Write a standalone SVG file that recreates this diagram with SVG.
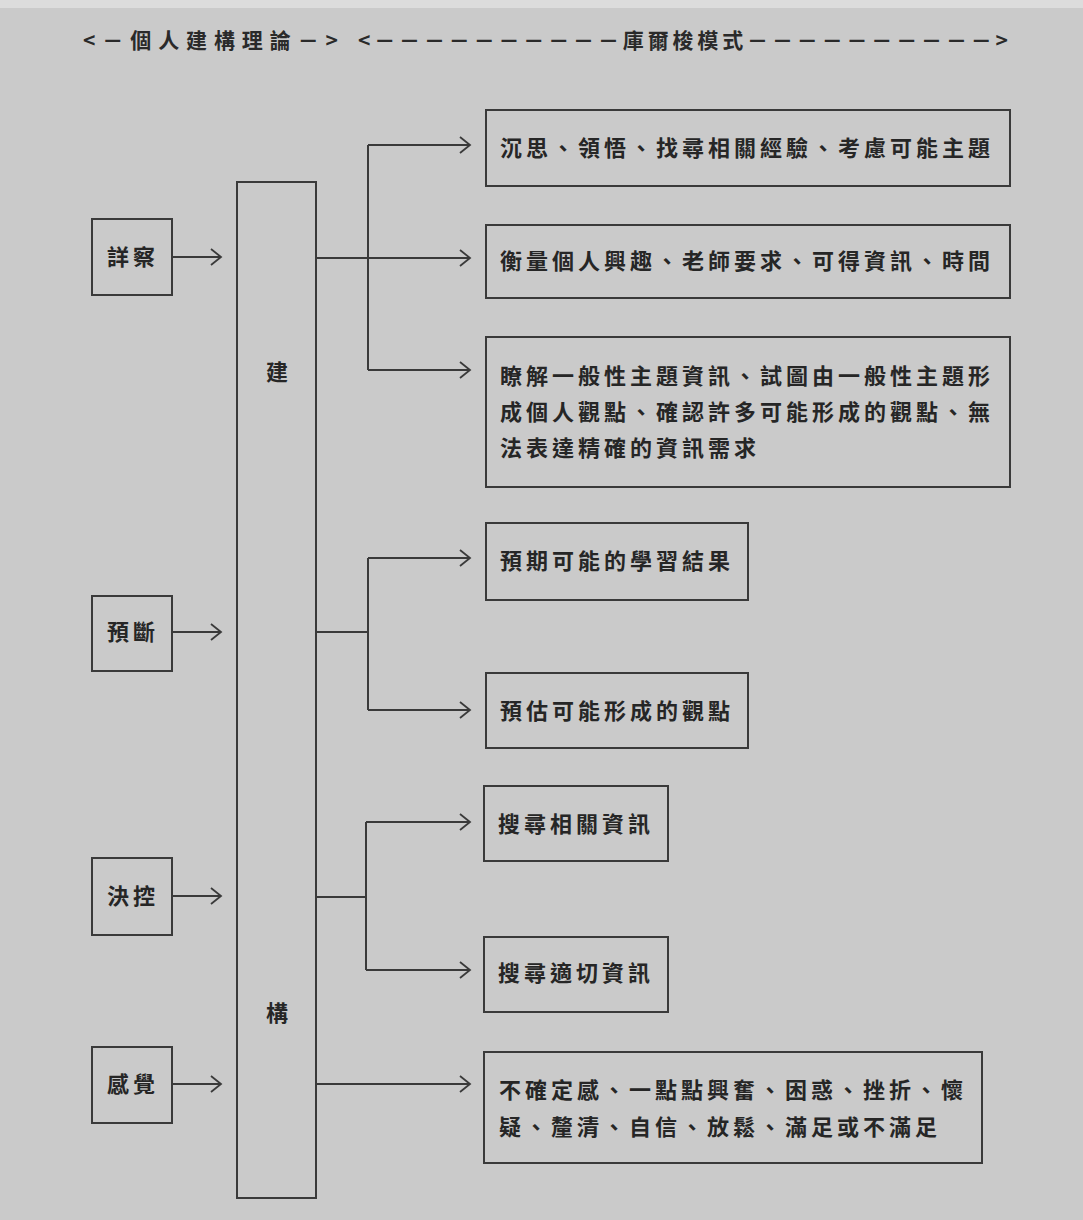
<svg xmlns="http://www.w3.org/2000/svg" width="1083" height="1220" viewBox="0 0 1083 1220">
<style>
.bg{fill:#cacaca}
.box{fill:none;stroke:#3a3a3a;stroke-width:2}
.t{font-family:"Noto Sans CJK TC","Noto Sans CJK SC",sans-serif;font-size:22px;font-weight:bold;fill:#262626;letter-spacing:4px}
.h{font-family:"Noto Sans CJK TC","Noto Sans CJK SC",sans-serif;font-size:21px;font-weight:bold;fill:#2a2a2a}
.c{fill:none;stroke:#3a3a3a;stroke-width:2}
</style>
<defs>
<marker id="arr" markerUnits="userSpaceOnUse" markerWidth="14" markerHeight="20" refX="11" refY="9" orient="auto">
<path d="M1,1 L11,9 L1,17" fill="none" stroke="#3a3a3a" stroke-width="1.8"/>
</marker>
</defs>
<rect class="bg" x="0" y="0" width="1083" height="1220"/>
<rect x="0" y="0" width="1083" height="8" fill="#dcdcdc"/>

<g id="header">
<text class="h" x="83" y="48" textLength="255" lengthAdjust="spacing">&lt;－個人建構理論－&gt;</text>
<text class="h" x="358" y="48" textLength="650" lengthAdjust="spacing">&lt;－－－－－－－－－－庫爾梭模式－－－－－－－－－－&gt;</text>
</g>

<g id="n-xiangcha"><rect class="box" x="92" y="219" width="80" height="76"/><text class="t" x="107" y="265">詳察</text></g>
<g id="n-yuduan"><rect class="box" x="92" y="596" width="80" height="75"/><text class="t" x="107" y="640">預斷</text></g>
<g id="n-juekong"><rect class="box" x="92" y="858" width="80" height="77"/><text class="t" x="107" y="904">決控</text></g>
<g id="n-ganjue"><rect class="box" x="92" y="1047" width="80" height="76"/><text class="t" x="107" y="1092">感覺</text></g>

<g id="n-construct"><rect class="box" x="237" y="182" width="79" height="1016"/>
<text class="t" x="266" y="380" style="letter-spacing:0">建</text>
<text class="t" x="266" y="1021" style="letter-spacing:0">構</text></g>

<g id="n-r1"><rect class="box" x="486" y="110" width="524" height="76"/><text class="t" x="500" y="156">沉思、領悟、找尋相關經驗、考慮可能主題</text></g>
<g id="n-r2"><rect class="box" x="486" y="225" width="524" height="73"/><text class="t" x="500" y="269">衡量個人興趣、老師要求、可得資訊、時間</text></g>
<g id="n-r3"><rect class="box" x="486" y="337" width="524" height="150"/>
<text class="t" x="500" y="384">瞭解一般性主題資訊、試圖由一般性主題形</text>
<text class="t" x="500" y="420">成個人觀點、確認許多可能形成的觀點、無</text>
<text class="t" x="500" y="456">法表達精確的資訊需求</text></g>
<g id="n-r4"><rect class="box" x="486" y="523" width="262" height="77"/><text class="t" x="500" y="569">預期可能的學習結果</text></g>
<g id="n-r5"><rect class="box" x="486" y="673" width="262" height="75"/><text class="t" x="500" y="719">預估可能形成的觀點</text></g>
<g id="n-r6"><rect class="box" x="484" y="786" width="184" height="75"/><text class="t" x="498" y="832">搜尋相關資訊</text></g>
<g id="n-r7"><rect class="box" x="484" y="937" width="184" height="75"/><text class="t" x="498" y="981">搜尋適切資訊</text></g>
<g id="n-r8"><rect class="box" x="484" y="1052" width="498" height="111"/>
<text class="t" x="499" y="1098">不確定感、一點點興奮、困惑、挫折、懷</text>
<text class="t" x="499" y="1135">疑、釐清、自信、放鬆、滿足或不滿足</text></g>

<g id="connectors">
<line class="c" x1="172" y1="257" x2="221" y2="257" marker-end="url(#arr)"/>
<line class="c" x1="172" y1="632" x2="221" y2="632" marker-end="url(#arr)"/>
<line class="c" x1="172" y1="896" x2="221" y2="896" marker-end="url(#arr)"/>
<line class="c" x1="172" y1="1084" x2="221" y2="1084" marker-end="url(#arr)"/>

<line class="c" x1="368" y1="145" x2="368" y2="370"/>
<line class="c" x1="368" y1="145" x2="470" y2="145" marker-end="url(#arr)"/>
<line class="c" x1="316" y1="258" x2="470" y2="258" marker-end="url(#arr)"/>
<line class="c" x1="368" y1="370" x2="470" y2="370" marker-end="url(#arr)"/>

<line class="c" x1="316" y1="632" x2="368" y2="632"/>
<line class="c" x1="368" y1="558" x2="368" y2="710"/>
<line class="c" x1="368" y1="558" x2="470" y2="558" marker-end="url(#arr)"/>
<line class="c" x1="368" y1="710" x2="470" y2="710" marker-end="url(#arr)"/>

<line class="c" x1="316" y1="897" x2="366" y2="897"/>
<line class="c" x1="366" y1="822" x2="366" y2="970"/>
<line class="c" x1="366" y1="822" x2="470" y2="822" marker-end="url(#arr)"/>
<line class="c" x1="366" y1="970" x2="470" y2="970" marker-end="url(#arr)"/>

<line class="c" x1="316" y1="1084" x2="470" y2="1084" marker-end="url(#arr)"/>
</g>
</svg>
